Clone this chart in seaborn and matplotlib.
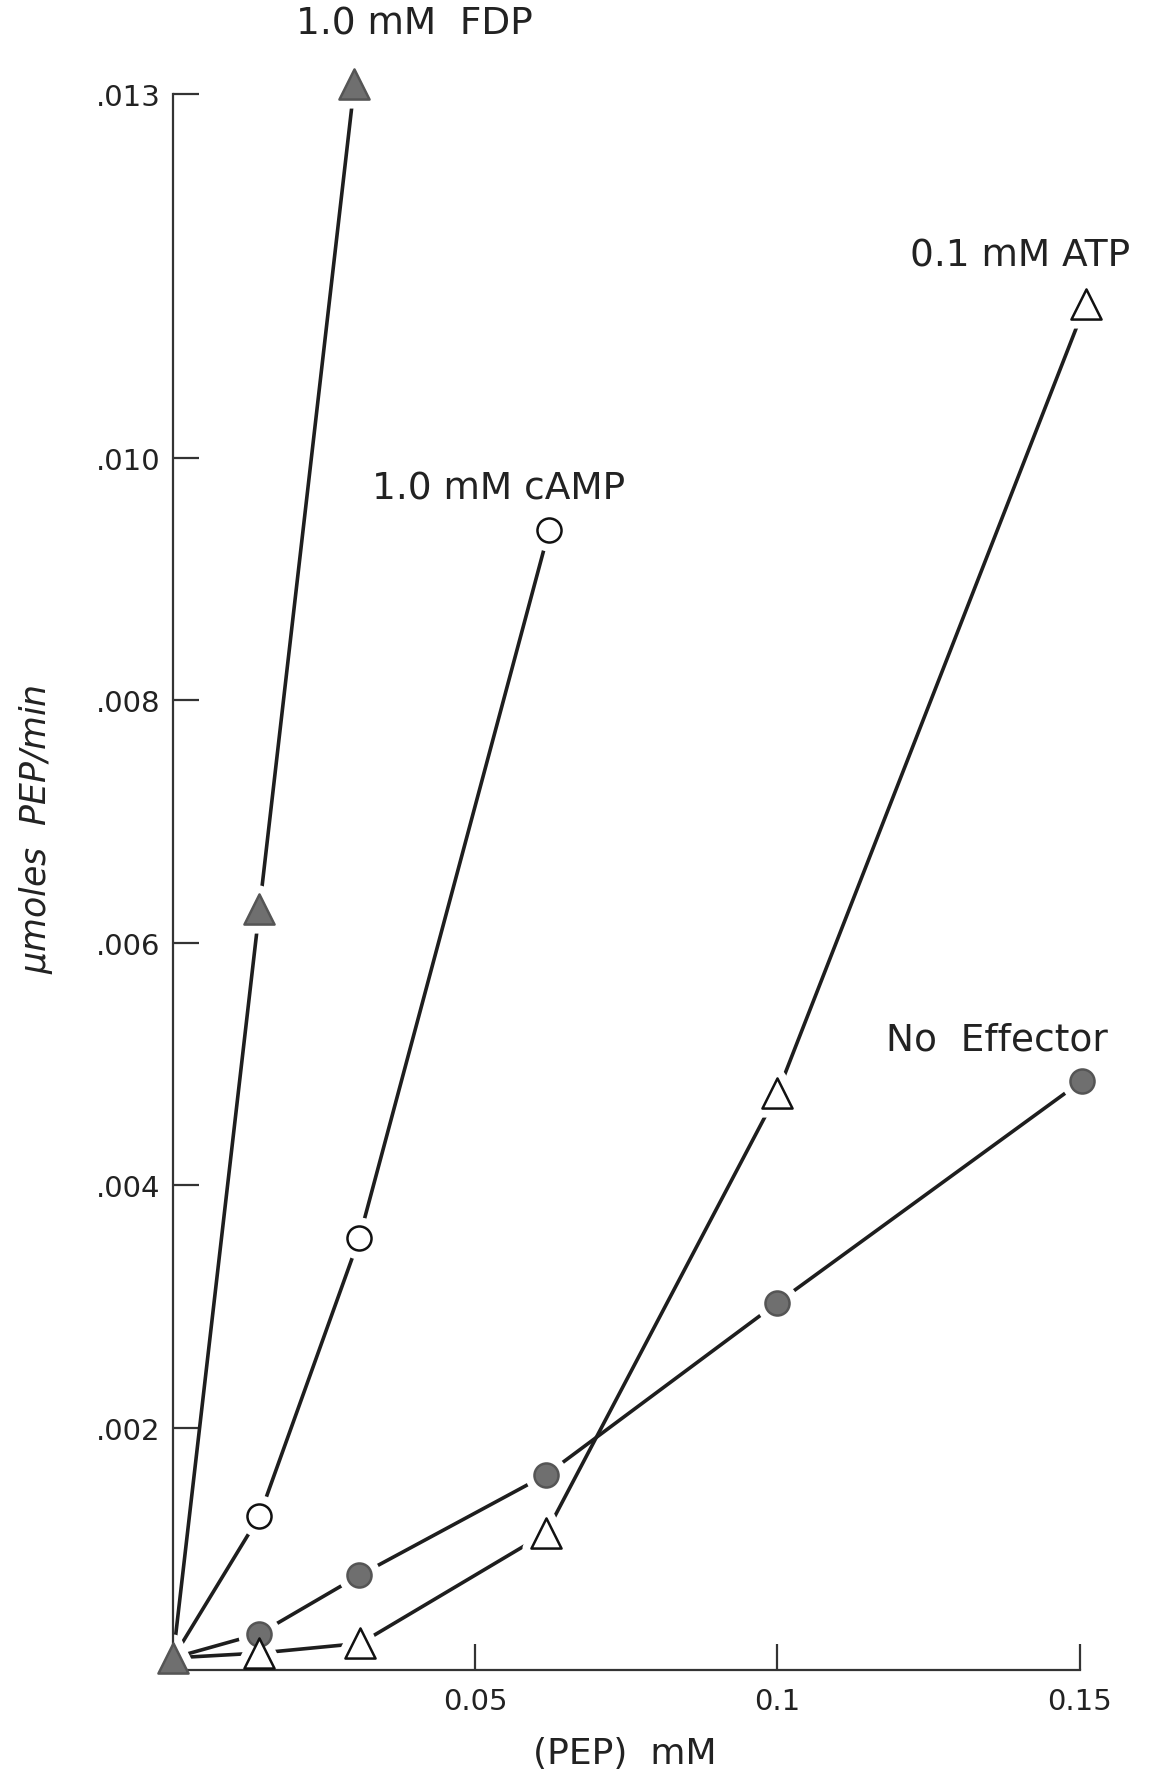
import pandas as pd
import numpy as np
import matplotlib
matplotlib.use('Agg')
import matplotlib.pyplot as plt
from matplotlib import font_manager
import seaborn as sns

# Nồng độ PEP (mM) và tốc độ phản ứng (µmoles PEP/min)
x_fdp = [0.0, 0.0143, 0.030]
y_fdp = [0.0001, 0.00628, 0.01308]

x_camp = [0.0, 0.0143, 0.0308, 0.0622]
y_camp = [0.0001, 0.00127, 0.00356, 0.0094]

x_none = [0.0, 0.0143, 0.0308, 0.0617, 0.100, 0.1504]
y_none = [0.0001, 0.00030, 0.00078, 0.00161, 0.00303, 0.00486]

x_atp = [0.0, 0.0143, 0.031, 0.0617, 0.100, 0.151]
y_atp = [0.0001, 0.00014, 0.00022, 0.00113, 0.00476, 0.01127]

y_ticks = [0.002, 0.004, 0.006, 0.008, 0.010, 0.013]
y_ticklabels = ['.002', '.004', '.006', '.008', '.010', '.013']
x_ticks = [0.05, 0.1, 0.15]
x_ticklabels = ['0.05', '0.1', '0.15']

series = [
    # (x, y, marker, facecolor, label, label_x, label_y)
    (x_none, y_none, 'o', '#6f6f6f', 'No  Effector', 0.1363, 0.0052),
    (x_atp, y_atp, '^', 'white', '0.1 mM ATP', 0.1402, 0.01167),
    (x_camp, y_camp, 'o', 'white', '1.0 mM cAMP', 0.0538, 0.00975),
    (x_fdp, y_fdp, '^', '#6f6f6f', '1.0 mM  FDP', 0.040, 0.01358),
]

sns.set_style('ticks')
# font hẹp giống chữ trong hình gốc nếu có
installed = {f.name for f in font_manager.fontManager.ttflist}
fams = [f for f in ['Liberation Sans Narrow', 'DejaVu Sans Condensed'] if f in installed]
plt.rcParams['font.family'] = fams + ['DejaVu Sans']
narrow = len(fams) > 0

fig = plt.figure(figsize=(11.56, 17.83), dpi=100)
ax = fig.add_axes([0.1497, 0.0628, 0.934 - 0.1497, 0.9467 - 0.0628])

line_col = '#1e1e1e'
lab_size = 30 if narrow else 27
for xs, ys, mk, fc, lab, lx, ly in series:
    df = pd.DataFrame({'x': xs, 'y': ys})
    sns.lineplot(data=df, x='x', y='y', sort=False, ax=ax, color=line_col,
                 linewidth=2.6, zorder=2, clip_on=False)
    # điểm gốc chỉ vẽ tam giác FDP
    pts = df if fc == '#6f6f6f' and mk == '^' else df.iloc[1:]
    size = 300 if mk == 'o' else 470
    # vòng trắng để tạo khoảng hở giữa đường và điểm
    sns.scatterplot(data=pts, x='x', y='y', ax=ax, marker=mk, s=size,
                    color='white', edgecolor='white', linewidth=13,
                    zorder=2.2, clip_on=False, legend=False)
    ec = '#555555' if fc != 'white' else '#111111'
    sns.scatterplot(data=pts, x='x', y='y', ax=ax, marker=mk, s=size,
                    color=fc, edgecolor=ec, linewidth=1.8,
                    zorder=3, clip_on=False, legend=False)
    ax.text(lx, ly, lab, ha='center', va='center', fontsize=lab_size,
            color='#222222')

ax.set_xlim(0, 0.15)
ax.set_ylim(0, 0.013)
ax.set_xticks(x_ticks)
ax.set_xticklabels(x_ticklabels)
ax.set_yticks(y_ticks)
ax.set_yticklabels(y_ticklabels)
ax.tick_params(direction='in', length=19, width=1.6, colors='#333333',
               labelsize=24 if narrow else 21, labelcolor='#222222')
ax.tick_params(axis='x', pad=12)
ax.tick_params(axis='y', pad=9)

sns.despine(ax=ax)
for sp in ['left', 'bottom']:
    ax.spines[sp].set_linewidth(1.6)
    ax.spines[sp].set_color('#333333')

ax.set_xlabel('(PEP)  mM', fontsize=29 if narrow else 26, color='#222222')
ax.set_ylabel('$\\mu$moles  PEP/min', fontsize=28 if narrow else 25,
              style='italic', color='#222222')
ax.xaxis.set_label_coords(0.498, -0.042)
ax.yaxis.set_label_coords(-0.13, 0.534)

fig.savefig('out.png', dpi=100)
